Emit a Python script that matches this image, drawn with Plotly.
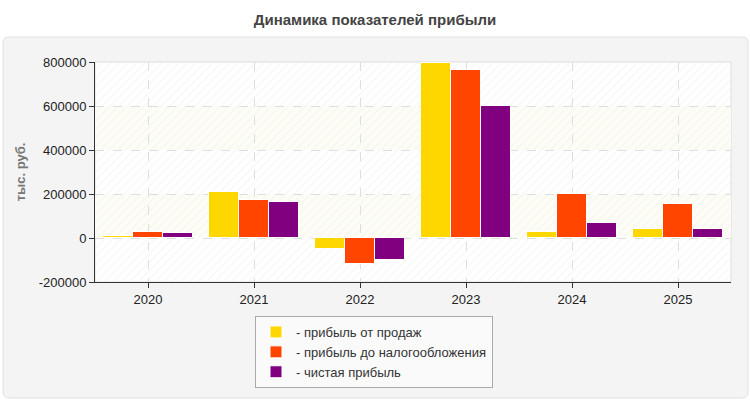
import plotly.graph_objects as go

years = ["2020", "2021", "2022", "2023", "2024", "2025"]
sales_profit = [10000, 210000, -50000, 794000, 28000, 42000]
pretax_profit = [28000, 174000, -118000, 765000, 198000, 153000]
net_profit = [23000, 165000, -100000, 601000, 70000, 42000]
series_names = ["- прибыль от продаж", "- прибыль до налогообложения", "- чистая прибыль"]
series_colors = ["#FFD700", "#FF4500", "#800080"]
y_ticks = [-200000, 0, 200000, 400000, 600000, 800000]
y_min, y_max = -200000, 800000

FONT = "Liberation Sans, Arial, sans-serif"

fig = go.Figure()

# hatched plot background
fig.add_trace(go.Bar(
    x=[years[0]], y=[y_max - y_min], base=[y_min], width=[len(years)], offset=-0.5,
    marker=dict(color="rgba(0,0,0,0)", line=dict(width=0),
                pattern=dict(shape="/", size=6, solidity=0.18, fgcolor="#ebebeb",
                             bgcolor="rgba(0,0,0,0)", fillmode="overlay")),
    showlegend=False, hoverinfo="skip"))

bw = 0.28
offsets = [-0.42, -0.14, 0.14]
for vals, name, col, off in zip([sales_profit, pretax_profit, net_profit], series_names, series_colors, offsets):
    fig.add_trace(go.Bar(
        x=years, y=vals, name=name, width=bw, offset=off,
        marker=dict(color=col, line=dict(color="white", width=1)),
    ))

# panel with rounded corners (paper coords relative to plot area)
L, R, T, B = 95, 731, 62, 282
W, H = R - L, B - T
def px(x):
    return (x - L) / W
def py(y):
    return (B - y) / H
x0, x1, yt, yb = px(3), px(748), py(37), py(398)
rx, ry = 6 / W, 6 / H
path = (f"M {x0+rx},{yt} L {x1-rx},{yt} Q {x1},{yt} {x1},{yt-ry} L {x1},{yb+ry} "
        f"Q {x1},{yb} {x1-rx},{yb} L {x0+rx},{yb} Q {x0},{yb} {x0},{yb+ry} "
        f"L {x0},{yt-ry} Q {x0},{yt} {x0+rx},{yt} Z")
shapes = [
    dict(type="path", xref="paper", yref="paper", path=path, fillcolor="#f4f4f4",
         line=dict(color="#e0e0e0", width=1), layer="below"),
    dict(type="rect", xref="paper", yref="paper", x0=0, x1=1, y0=0, y1=1,
         fillcolor="white", line=dict(color="#dddddd", width=1), layer="below"),
]
for lo, hi in [(0, 200000), (400000, 600000)]:
    shapes.append(dict(type="rect", xref="paper", yref="y", x0=0, x1=1, y0=lo, y1=hi,
                       fillcolor="#fdfdf6", line=dict(width=0), layer="below"))

fig.update_layout(
    width=750, height=400,
    margin=dict(l=L, r=750 - R, t=T, b=400 - B),
    paper_bgcolor="white", plot_bgcolor="rgba(0,0,0,0)",
    barmode="overlay",
    font=dict(family=FONT, size=13, color="#222"),
    title=dict(text="<b>Динамика показателей прибыли</b>", x=0.5, xref="container", xanchor="center",
               y=1 - 20 / 400, yref="container", yanchor="middle",
               font=dict(family=FONT, size=15, color="#444")),
    shapes=shapes,
    showlegend=True,
    legend=dict(x=px(374), xanchor="center", y=py(316), yanchor="top",
                bgcolor="#fafafa", bordercolor="#aaaaaa", borderwidth=1,
                font=dict(family=FONT, size=13, color="#333"), traceorder="normal",
                itemclick=False, tracegroupgap=0),
    bargap=0,
)
fig.update_xaxes(
    type="category", categoryorder="array", categoryarray=years, range=[-0.5, len(years) - 0.5],
    showline=True, linecolor="#333", linewidth=1, ticks="outside", ticklen=5, tickcolor="#333",
    showgrid=True, gridcolor="#dddddd", griddash="dash", gridwidth=1,
    tickfont=dict(size=13, color="#222"), fixedrange=True,
)
fig.update_yaxes(
    range=[y_min, y_max], tickvals=y_ticks, ticktext=[str(v) for v in y_ticks],
    showline=True, linecolor="#333", linewidth=1, ticks="outside", ticklen=5, tickcolor="#333",
    showgrid=True, gridcolor="#dddddd", griddash="dash", gridwidth=1, zeroline=False,
    tickfont=dict(size=13, color="#222"),
    title=dict(text="<b>тыс. руб.</b>", font=dict(family=FONT, size=13, color="#777"), standoff=10),
    fixedrange=True,
)

fig.write_html("out.html")
